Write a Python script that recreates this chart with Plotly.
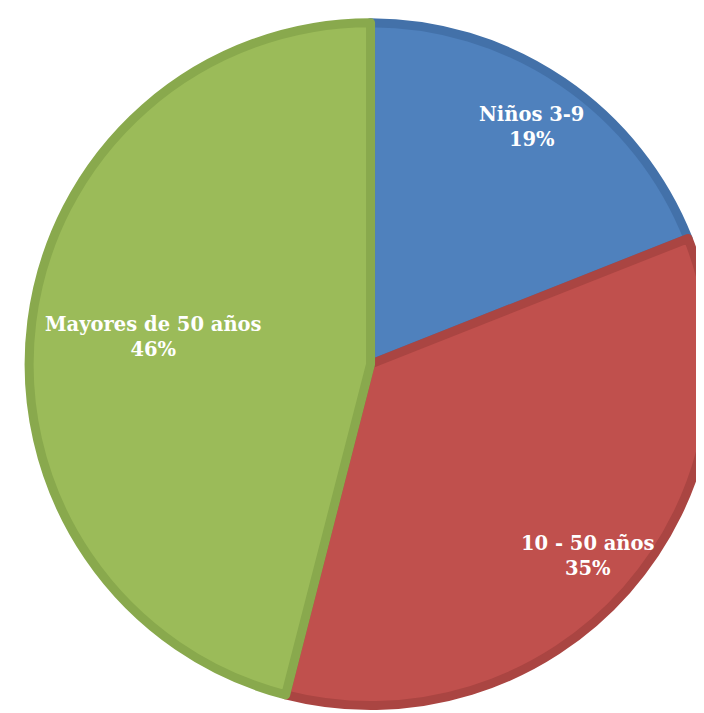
import math
import plotly.graph_objects as go

categories = ["Niños 3-9", "10 - 50 años", "Mayores de 50 años"]
values = [19, 35, 46]
fill_colors = ["#4F81BD", "#C0504D", "#9BBB59"]
border_colors = ["#4371A9", "#AA4542", "#89A94D"]

# label placement (fraction of radius along each slice bisector)
label_radius_frac = [0.84, 0.85, 0.64]

W, H = 704, 713
dom_x = [0.03, 1.0]
dom_y = [0.02, 0.981]

fig = go.Figure(
    go.Pie(
        labels=categories,
        values=values,
        sort=False,
        direction="clockwise",
        rotation=0,
        marker=dict(colors=fill_colors, line=dict(color=border_colors, width=9)),
        textinfo="none",
        hoverinfo="label+percent",
        domain=dict(x=dom_x, y=dom_y),
        showlegend=False,
    )
)

# annotations placed along slice bisectors, derived from the values
R = min(W * (dom_x[1] - dom_x[0]), H * (dom_y[1] - dom_y[0])) / 2
cx = (dom_x[0] + dom_x[1]) / 2
cy = (dom_y[0] + dom_y[1]) / 2
total = sum(values)
cum = 0
for lab, v, f in zip(categories, values, label_radius_frac):
    mid = (cum + v / 2) / total * 2 * math.pi
    cum += v
    dx = f * R * math.sin(mid) / W
    dy = f * R * math.cos(mid) / H
    pct = round(100 * v / total)
    fig.add_annotation(
        x=cx + dx,
        y=cy + dy,
        xref="paper",
        yref="paper",
        text=f"<b>{lab}</b><br><b>{pct}%</b>",
        showarrow=False,
        font=dict(family="DejaVu Serif", size=19.5, color="white"),
        align="center",
        xanchor="center",
        yanchor="middle",
    )

fig.update_layout(
    width=W,
    height=H,
    margin=dict(l=0, r=0, t=0, b=0),
    paper_bgcolor="white",
    plot_bgcolor="white",
)

fig.write_html("out.html")
